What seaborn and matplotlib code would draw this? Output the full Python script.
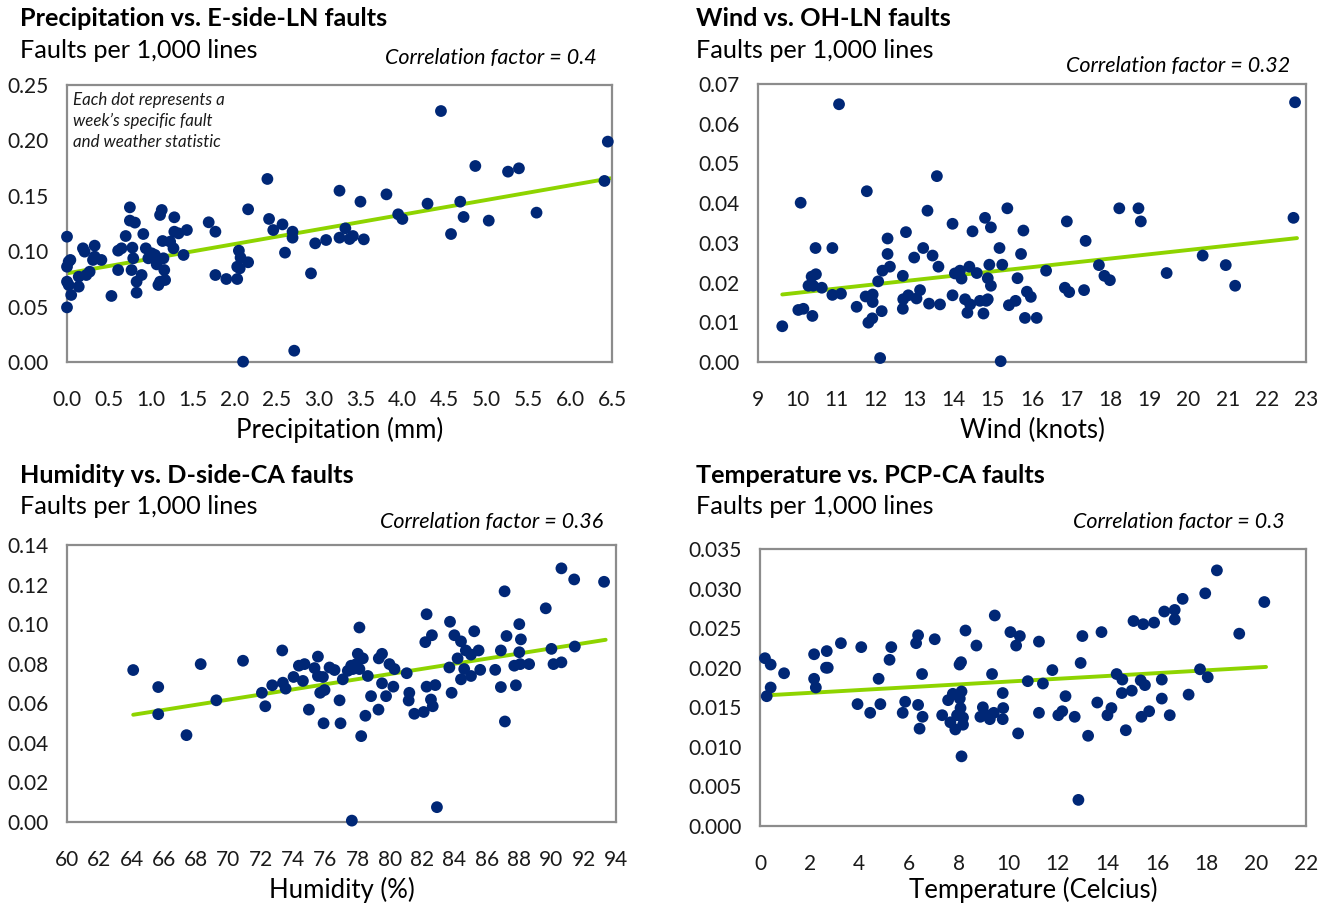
import matplotlib
matplotlib.use("Agg")
import matplotlib.pyplot as plt
import matplotlib.ticker as mticker
import seaborn as sns
import pandas as pd
import numpy as np

# ---------------- data ----------------
precip_x = [0.0, 0.0, 0.0, 0.02, 0.04, 0.0, 0.02, 0.05, 0.14, 0.14, 0.19, 0.21, 0.23, 0.27, 0.33, 0.33, 0.31,
            0.41, 0.53, 0.61, 0.65, 0.61, 0.70, 0.75, 0.75, 0.81, 0.78, 0.79, 0.77, 0.83, 0.83, 0.89, 0.91,
            0.94, 0.97, 1.01, 1.05, 1.07, 1.09, 1.11, 1.17, 1.11, 1.13, 1.14, 1.15, 1.16, 1.23, 1.28, 1.27,
            1.28, 1.33, 1.39, 1.43, 1.69, 1.77, 1.77, 1.90, 2.03, 2.05, 2.07, 2.03, 2.06, 2.16, 2.16, 2.10,
            2.39, 2.41, 2.46, 2.57, 2.60, 2.69, 2.69, 2.71, 2.91, 2.96, 3.09, 3.25, 3.25, 3.32, 3.37, 3.41,
            3.54, 3.50, 3.81, 3.95, 4.00, 4.30, 4.46, 4.58, 4.69, 4.73, 4.87, 5.03, 5.26, 5.39, 5.60, 6.41, 6.45]
precip_y = [0.0493, 0.1131, 0.0860, 0.0906, 0.0921, 0.0725, 0.0695, 0.0605, 0.0770, 0.0680, 0.1026, 0.0996,
            0.0785, 0.0815, 0.1050, 0.0951, 0.0921, 0.0921, 0.0596, 0.1005, 0.1026, 0.0830, 0.1137, 0.1396,
            0.1276, 0.1258, 0.1032, 0.0936, 0.0830, 0.0725, 0.0626, 0.0785, 0.1155, 0.1026, 0.0936, 0.0981,
            0.0966, 0.0881, 0.0695, 0.0725, 0.0740, 0.1327, 0.1372, 0.1092, 0.0936, 0.0830, 0.1086, 0.1306,
            0.1026, 0.1176, 0.1161, 0.0966, 0.1191, 0.1261, 0.1176, 0.0785, 0.0749, 0.0749, 0.1005, 0.0942,
            0.0860, 0.0845, 0.0900, 0.1378, 0.0003, 0.1652, 0.1291, 0.1191, 0.1242, 0.0987, 0.1176, 0.1122,
            0.0102, 0.0800, 0.1071, 0.1101, 0.1122, 0.1546, 0.1206, 0.1110, 0.1137, 0.1107, 0.1447, 0.1513,
            0.1333, 0.1291, 0.1429, 0.2265, 0.1155, 0.1447, 0.1309, 0.1769, 0.1276, 0.1718, 0.1748, 0.1348,
            0.1634, 0.1989]
precip_trend_x = [0.0, 6.48]
precip_trend_y = [0.080, 0.1658]

wind_x = [9.62, 10.09, 10.03, 10.16, 10.39, 10.47, 10.37, 10.48, 10.29, 10.41, 10.63, 10.90, 10.90, 11.12,
          11.07, 11.78, 11.52, 11.75, 11.93, 11.93, 11.82, 11.92, 12.16, 12.12, 12.07, 12.18, 12.31, 12.31,
          12.37, 12.70, 12.78, 12.70, 12.71, 12.84, 13.05, 13.14, 12.99, 13.22, 13.33, 13.46, 13.61, 13.57,
          13.37, 13.65, 13.97, 13.97, 14.03, 14.16, 14.20, 14.29, 14.35, 14.42, 14.40, 14.48, 14.59, 14.67,
          14.76, 14.80, 14.83, 14.87, 14.95, 14.91, 14.87, 14.95, 15.17, 15.24, 15.20, 15.37, 15.41,
          15.78, 15.72, 15.63, 15.58, 15.87, 15.97, 15.82, 16.12, 16.36, 16.89, 16.84, 16.95, 17.33, 17.37,
          17.71, 17.85, 17.99, 18.23, 18.72, 18.78, 19.44, 20.36, 20.95, 21.19, 22.68, 22.72]
wind_y = [0.0090, 0.0401, 0.0131, 0.0134, 0.0116, 0.0287, 0.0215, 0.0221, 0.0192, 0.0192, 0.0187, 0.0287,
          0.0169, 0.0172, 0.0649, 0.0430, 0.0139, 0.0165, 0.0170, 0.0151, 0.0099, 0.0110, 0.0128, 0.0010,
          0.0203, 0.0230, 0.0311, 0.0272, 0.0240, 0.0217, 0.0327, 0.0134, 0.0158, 0.0168, 0.0160, 0.0181,
          0.0263, 0.0287, 0.0381, 0.0268, 0.0240, 0.0468, 0.0147, 0.0145, 0.0348, 0.0168, 0.0223, 0.0230,
          0.0210, 0.0158, 0.0124, 0.0145, 0.0240, 0.0329, 0.0224, 0.0154, 0.0122, 0.0363, 0.0154, 0.0158,
          0.0339, 0.0245, 0.0211, 0.0192, 0.0287, 0.0245, 0.0002, 0.0387, 0.0143,
          0.0331, 0.0272, 0.0211, 0.0154, 0.0177, 0.0164, 0.0111, 0.0111, 0.0230, 0.0354, 0.0187, 0.0176,
          0.0181, 0.0305, 0.0244, 0.0217, 0.0206, 0.0387, 0.0387, 0.0354, 0.0224, 0.0268, 0.0244, 0.0192,
          0.0363, 0.0654]
wind_trend_x = [9.62, 22.77]
wind_trend_y = [0.0170, 0.0312]

humid_x = [64.10, 65.65, 65.65, 67.40, 68.28, 69.25, 70.90, 72.07, 72.28, 72.71, 73.33, 73.37, 73.54, 74.03,
           74.36, 74.71, 74.61, 74.98, 75.33, 75.54, 75.54, 75.85, 75.68, 75.95, 75.89, 76.26,
           76.57, 76.88, 76.94, 77.08, 77.39, 77.60, 77.70, 77.91, 78.01, 78.11, 78.32, 78.11, 78.22, 77.64,
           78.48, 78.63, 78.83, 79.29, 79.31, 79.51, 79.51, 79.76, 79.97, 80.21, 80.28, 81.04, 81.20, 81.16,
           81.51, 82.09, 82.19, 82.27, 82.60, 82.27, 82.81, 82.54, 82.65, 82.91, 83.72, 83.82, 83.99, 84.40,
           83.68, 84.19, 84.60, 84.70, 85.02, 85.22, 85.49, 84.40, 85.02, 85.59, 86.52, 86.87, 86.87, 87.10,
           87.22, 87.12, 87.80, 87.70, 88.01, 88.01, 88.11, 88.07, 88.62, 89.65, 90.00, 90.13, 90.62, 90.62,
           91.41, 91.45, 93.26]
humid_y = [0.0768, 0.0682, 0.0545, 0.0439, 0.0798, 0.0615, 0.0815, 0.0653, 0.0585, 0.0691, 0.0867, 0.0704,
           0.0674, 0.0733, 0.0790, 0.0798, 0.0713, 0.0568, 0.0778, 0.0836, 0.0738, 0.0733, 0.0653, 0.0667,
           0.0499, 0.0781,
           0.0768, 0.0615, 0.0499, 0.0721, 0.0764, 0.0790, 0.0773, 0.0798, 0.0850, 0.0773, 0.0827, 0.0983,
           0.0434, 0.0007, 0.0537, 0.0738, 0.0636, 0.0568, 0.0827, 0.0850, 0.0701, 0.0636, 0.0798, 0.0684,
           0.0773, 0.0752, 0.0653, 0.0614, 0.0547, 0.0556, 0.0909, 0.1050, 0.0944, 0.0684, 0.0692, 0.0619,
           0.0585, 0.0075, 0.1012, 0.0653, 0.0944, 0.0913, 0.0781, 0.0827, 0.0773, 0.0867, 0.0846, 0.0964,
           0.0867, 0.0721, 0.0738, 0.0769, 0.0769, 0.0867, 0.0682, 0.1166, 0.0940, 0.0508, 0.0691, 0.0790,
           0.0858, 0.1000, 0.0923, 0.0798, 0.0798, 0.1080, 0.0875, 0.0798, 0.0807, 0.1282, 0.1226, 0.0887,
           0.1214]
humid_trend_x = [64.10, 93.36]
humid_trend_y = [0.0542, 0.0921]

temp_x = [0.20, 0.43, 0.27, 0.43, 0.97, 2.18, 2.18, 2.25, 2.69, 2.66, 2.73, 3.26, 4.08, 3.93, 4.44, 4.85,
          4.78, 5.22, 5.29, 5.75, 5.85, 6.29, 6.37, 6.37, 6.53, 6.55, 6.43, 7.04, 7.34, 7.58, 7.67, 7.77,
          7.87, 7.94, 8.04, 8.10, 8.12, 8.05, 8.08, 8.18, 8.18, 8.12, 8.28, 8.72, 8.88, 8.98, 9.15, 9.26,
          9.35, 9.46, 9.42, 9.78, 9.80, 9.78, 10.09, 10.47, 10.32, 10.40, 10.79, 11.24, 11.24, 11.40, 11.78,
          12.02, 12.18, 12.31, 12.68, 12.92, 12.99, 12.83, 13.22, 13.59, 13.76, 14.00, 14.16, 14.37, 14.60,
          14.58, 14.74, 14.98, 15.05, 15.44, 15.34, 15.51, 15.37, 15.68, 15.88, 16.19, 16.19, 16.29, 16.51,
          16.71, 16.71, 17.03, 17.27, 17.73, 17.94, 18.04, 18.41, 19.31, 20.32]
temp_y = [0.0212, 0.0204, 0.0164, 0.0175, 0.0193, 0.0217, 0.0186, 0.0175, 0.0221, 0.0200, 0.0200, 0.0231,
          0.0226, 0.0154, 0.0143, 0.0154, 0.0186, 0.0210, 0.0226, 0.0143, 0.0157, 0.0231, 0.0241, 0.0153,
          0.0192, 0.0138, 0.0123, 0.0236, 0.0140, 0.0159, 0.0131, 0.0167, 0.0122, 0.0140, 0.0204, 0.0207,
          0.0170, 0.0161, 0.0149, 0.0137, 0.0128, 0.0088, 0.0247, 0.0228, 0.0138, 0.0150, 0.0140, 0.0135,
          0.0192, 0.0266, 0.0143, 0.0168, 0.0149, 0.0135, 0.0245, 0.0240, 0.0228, 0.0117, 0.0183, 0.0233,
          0.0143, 0.0180, 0.0197, 0.0140, 0.0145, 0.0164, 0.0138, 0.0206, 0.0240, 0.0033, 0.0114, 0.0156,
          0.0245, 0.0140, 0.0149, 0.0192, 0.0185, 0.0168, 0.0121, 0.0171, 0.0259, 0.0255, 0.0184, 0.0178,
          0.0138, 0.0145, 0.0257, 0.0185, 0.0161, 0.0271, 0.0140, 0.0273, 0.0261, 0.0287, 0.0166, 0.0198,
          0.0294, 0.0188, 0.0323, 0.0243, 0.0283]
temp_trend_x = [0.20, 20.39]
temp_trend_y = [0.0165, 0.0201]

titles = ["Precipitation vs. E-side-LN faults", "Wind vs. OH-LN faults",
          "Humidity vs. D-side-CA faults", "Temperature vs. PCP-CA faults"]
subtitle = "Faults per 1,000 lines"
corr_labels = ["Correlation factor = 0.4", "Correlation factor = 0.32",
               "Correlation factor = 0.36", "Correlation factor = 0.3"]
xlabels = ["Precipitation (mm)", "Wind (knots)", "Humidity (%)", "Temperature (Celcius)"]
note = "Each dot represents a\nweek\u2019s specific fault\nand weather statistic"

# ---------------- style ----------------
sns.set_theme(style="white")
plt.rcParams['font.family'] = ['Lato', 'DejaVu Sans']

DOT = "#002776"
TREND = "#8ED400"
FRAME = "#8C8C8C"

W, H = 1329, 908
fig = plt.figure(figsize=(W / 100, H / 100), dpi=100)


def px_axes(l, t, r, b):
    return fig.add_axes([l / W, 1 - b / H, (r - l) / W, (b - t) / H])


panels = [
    dict(box=(67, 85, 612, 362), x=precip_x, y=precip_y, tx=precip_trend_x, ty=precip_trend_y,
         xlim=(0, 6.5), xstep=0.5, xfmt="%.1f", ylim=(0, 0.25), ystep=0.05, yfmt="%.2f",
         title_xy=(20, 18), sub_xy=(20, 50), corr_xy=(597, 58), xlab_y=430),
    dict(box=(758, 84, 1306, 362), x=wind_x, y=wind_y, tx=wind_trend_x, ty=wind_trend_y,
         xlim=(9, 23), xstep=1, xfmt="%d", ylim=(0, 0.07), ystep=0.01, yfmt="%.2f",
         title_xy=(696, 18), sub_xy=(696, 50), corr_xy=(1290, 66), xlab_y=430),
    dict(box=(67, 545, 616, 822), x=humid_x, y=humid_y, tx=humid_trend_x, ty=humid_trend_y,
         xlim=(60, 94), xstep=2, xfmt="%d", ylim=(0, 0.14), ystep=0.02, yfmt="%.2f",
         title_xy=(20, 475), sub_xy=(20, 507), corr_xy=(603, 522), xlab_y=890),
    dict(box=(760, 549, 1306, 826), x=temp_x, y=temp_y, tx=temp_trend_x, ty=temp_trend_y,
         xlim=(0, 22), xstep=2, xfmt="%d", ylim=(0, 0.035), ystep=0.005, yfmt="%.3f",
         title_xy=(696, 475), sub_xy=(696, 507), corr_xy=(1285, 522), xlab_y=890),
]

for i, p in enumerate(panels):
    ax = px_axes(*p["box"])
    df = pd.DataFrame({"x": p["x"], "y": p["y"]})
    tr = pd.DataFrame({"x": p["tx"], "y": p["ty"]})
    sns.lineplot(data=tr, x="x", y="y", ax=ax, color=TREND, linewidth=2.8, zorder=2)
    sns.scatterplot(data=df, x="x", y="y", ax=ax, color=DOT, s=72, linewidth=0,
                    edgecolor="none", zorder=3, clip_on=False)
    ax.set_xlim(*p["xlim"])
    ax.set_ylim(*p["ylim"])
    ax.xaxis.set_major_locator(mticker.MultipleLocator(p["xstep"]))
    ax.yaxis.set_major_locator(mticker.MultipleLocator(p["ystep"]))
    ax.xaxis.set_major_formatter(mticker.FormatStrFormatter(p["xfmt"]))
    ax.yaxis.set_major_formatter(mticker.FormatStrFormatter(p["yfmt"]))
    ax.tick_params(axis="x", length=0, pad=20.5, labelsize=15, colors="#1a1a1a")
    ax.tick_params(axis="y", length=0, pad=13, labelsize=15, colors="#1a1a1a")
    ax.set_xlabel("")
    ax.set_ylabel("")
    for s in ax.spines.values():
        s.set_visible(True)
        s.set_color(FRAME)
        s.set_linewidth(1.6)
    ax.grid(False)

    # texts in pixel coordinates
    tx_, ty_ = p["title_xy"]
    fig.text(tx_ / W, 1 - (ty_ + 1) / H, titles[i], fontsize=18.2, fontweight="bold",
             ha="left", va="center", color="#000000")
    sx, sy = p["sub_xy"]
    fig.text(sx / W, 1 - sy / H, subtitle, fontsize=18.2, ha="left", va="center", color="#000000")
    cx, cy = p["corr_xy"]
    fig.text(cx / W, 1 - cy / H, corr_labels[i], fontsize=15.5, style="italic",
             ha="right", va="center", color="#000000")
    l, t, r, b = p["box"]
    fig.text((l + r) / 2 / W, 1 - p["xlab_y"] / H, xlabels[i], fontsize=18.5,
             ha="center", va="center", color="#000000")

# note in first panel
fig.text(73 / W, 1 - 92 / H, note, fontsize=12.2, style="italic", ha="left", va="top",
         color="#1a1a1a", linespacing=1.38)

fig.savefig("out.png", dpi=100)
